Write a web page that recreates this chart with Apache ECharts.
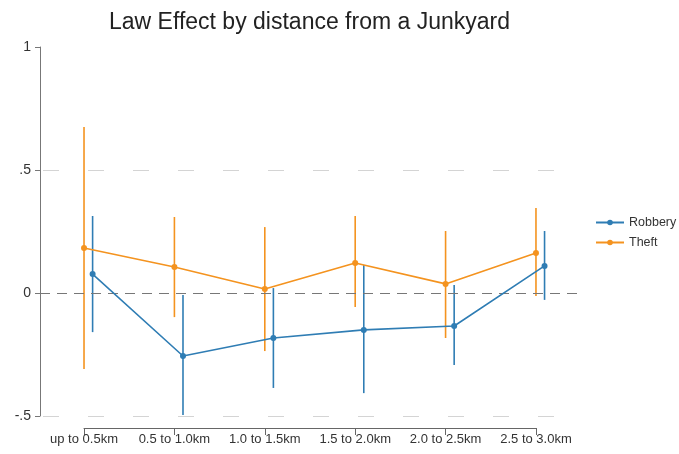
<!DOCTYPE html>
<html>
<head>
<meta charset="utf-8">
<script src="https://cdn.jsdelivr.net/npm/echarts@6/dist/echarts.min.js"></script>
<style>
html, body { margin: 0; padding: 0; background: #fff; }
#main { width: 679px; height: 454px; }
</style>
</head>
<body>
<div id="main"></div>
<script>
// distance bands
var categories = ['up to 0.5km', '0.5 to 1.0km', '1.0 to 1.5km', '1.5 to 2.0km', '2.0 to 2.5km', '2.5 to 3.0km'];

// robbery: point estimate and 95% interval
var robberyEst = [0.077, -0.256, -0.183, -0.150, -0.134, 0.110];
var robberyLo  = [-0.159, -0.496, -0.386, -0.407, -0.293, -0.028];
var robberyHi  = [0.313, -0.008, 0.020, 0.114, 0.033, 0.252];

// theft
var theftEst = [0.183, 0.106, 0.016, 0.122, 0.037, 0.163];
var theftLo  = [-0.309, -0.098, -0.236, -0.057, -0.183, -0.012];
var theftHi  = [0.675, 0.309, 0.268, 0.313, 0.252, 0.346];

var yTicks = { '1': '1', '0.5': '.5', '0': '0', '-0.5': '-.5' };
var gridLevels = [0.5, -0.5];

var robColor = '#2f7db4';
var theftColor = '#f4931f';
var shift = 0.095; // robbery drawn slightly right of theft

function pts(est, dx) {
    return est.map(function (v, i) { return [i + 1 + dx, v]; });
}
function bars(lo, hi, dx) {
    return lo.map(function (v, i) { return [i + 1 + dx, v, hi[i]]; });
}
function errBar(color) {
    return function (params, api) {
        var a = api.coord([api.value(0), api.value(1)]);
        var b = api.coord([api.value(0), api.value(2)]);
        return {
            type: 'line',
            shape: { x1: a[0], y1: a[1], x2: b[0], y2: b[1] },
            style: { stroke: color, lineWidth: 1.6 }
        };
    };
}

var myChart = echarts.init(document.getElementById('main'));
var option = {
    animation: false,
    title: {
        text: 'Law Effect by distance from a Junkyard',
        left: 104,
        top: 6,
        textStyle: { fontFamily: 'Liberation Sans', fontWeight: 'normal', fontSize: 23, color: '#222' }
    },
    legend: {
        orient: 'vertical',
        left: 590,
        top: 211,
        itemWidth: 28,
        itemHeight: 7,
        itemGap: 7,
        textStyle: { fontFamily: 'Liberation Sans', fontSize: 12.5, color: '#333' },
        data: ['Robbery', 'Theft']
    },
    grid: [
        { left: 40, right: 101, top: 47, bottom: 38 },
        { left: 84, right: 143, top: 47, bottom: 38 }
    ],
    xAxis: [
        {
            gridIndex: 0, type: 'value', min: 0.513, max: 6.465,
            axisLine: { show: false }, axisTick: { show: false },
            axisLabel: { show: false }, splitLine: { show: false }
        },
        {
            gridIndex: 1, type: 'category', data: categories, boundaryGap: false,
            offset: 12,
            axisLine: { onZero: false, lineStyle: { color: '#666', width: 1 } },
            axisTick: { interval: 0, length: 7, lineStyle: { color: '#666' } },
            axisLabel: {
                interval: 0, hideOverlap: false, margin: 5,
                fontFamily: 'Liberation Sans', fontSize: 13, color: '#333'
            },
            splitLine: { show: false }
        }
    ],
    yAxis: [
        {
            gridIndex: 0, type: 'value', min: -0.5, max: 1, interval: 0.5,
            axisLine: { show: true, lineStyle: { color: '#777', width: 1 } },
            axisTick: { show: true, length: 5, lineStyle: { color: '#777' } },
            axisLabel: {
                margin: 9, fontFamily: 'Liberation Sans', fontSize: 14, color: '#333',
                formatter: function (v) { return yTicks[String(v)] || ''; }
            },
            splitLine: { show: false }
        },
        {
            gridIndex: 1, type: 'value', min: -0.5, max: 1,
            show: false
        }
    ],
    series: [
        {
            type: 'line', silent: true, xAxisIndex: 0, yAxisIndex: 0,
            data: [], symbol: 'none',
            markLine: {
                silent: true, symbol: 'none', label: { show: false },
                lineStyle: { color: '#d4d4d4', type: [16, 29], dashOffset: -3, width: 1 },
                data: gridLevels.map(function (v) { return { yAxis: v }; })
            }
        },
        {
            type: 'line', silent: true, xAxisIndex: 0, yAxisIndex: 0,
            data: [], symbol: 'none',
            markLine: {
                silent: true, symbol: 'none', label: { show: false },
                lineStyle: { color: '#777', type: [10, 7], width: 1 },
                data: [{ yAxis: 0 }]
            }
        },
        {
            type: 'custom', xAxisIndex: 0, yAxisIndex: 0,
            renderItem: errBar(theftColor), data: bars(theftLo, theftHi, 0), z: 2
        },
        {
            type: 'custom', xAxisIndex: 0, yAxisIndex: 0,
            renderItem: errBar(robColor), data: bars(robberyLo, robberyHi, shift), z: 3
        },
        {
            name: 'Theft', type: 'line', xAxisIndex: 0, yAxisIndex: 0,
            data: pts(theftEst, 0), color: theftColor,
            symbol: 'circle', symbolSize: 6,
            lineStyle: { width: 1.6, color: theftColor },
            itemStyle: { color: theftColor }, z: 4
        },
        {
            name: 'Robbery', type: 'line', xAxisIndex: 0, yAxisIndex: 0,
            data: pts(robberyEst, shift), color: robColor,
            symbol: 'circle', symbolSize: 6,
            lineStyle: { width: 1.6, color: robColor },
            itemStyle: { color: robColor }, z: 5
        }
    ]
};
myChart.setOption(option);
</script>
</body>
</html>
